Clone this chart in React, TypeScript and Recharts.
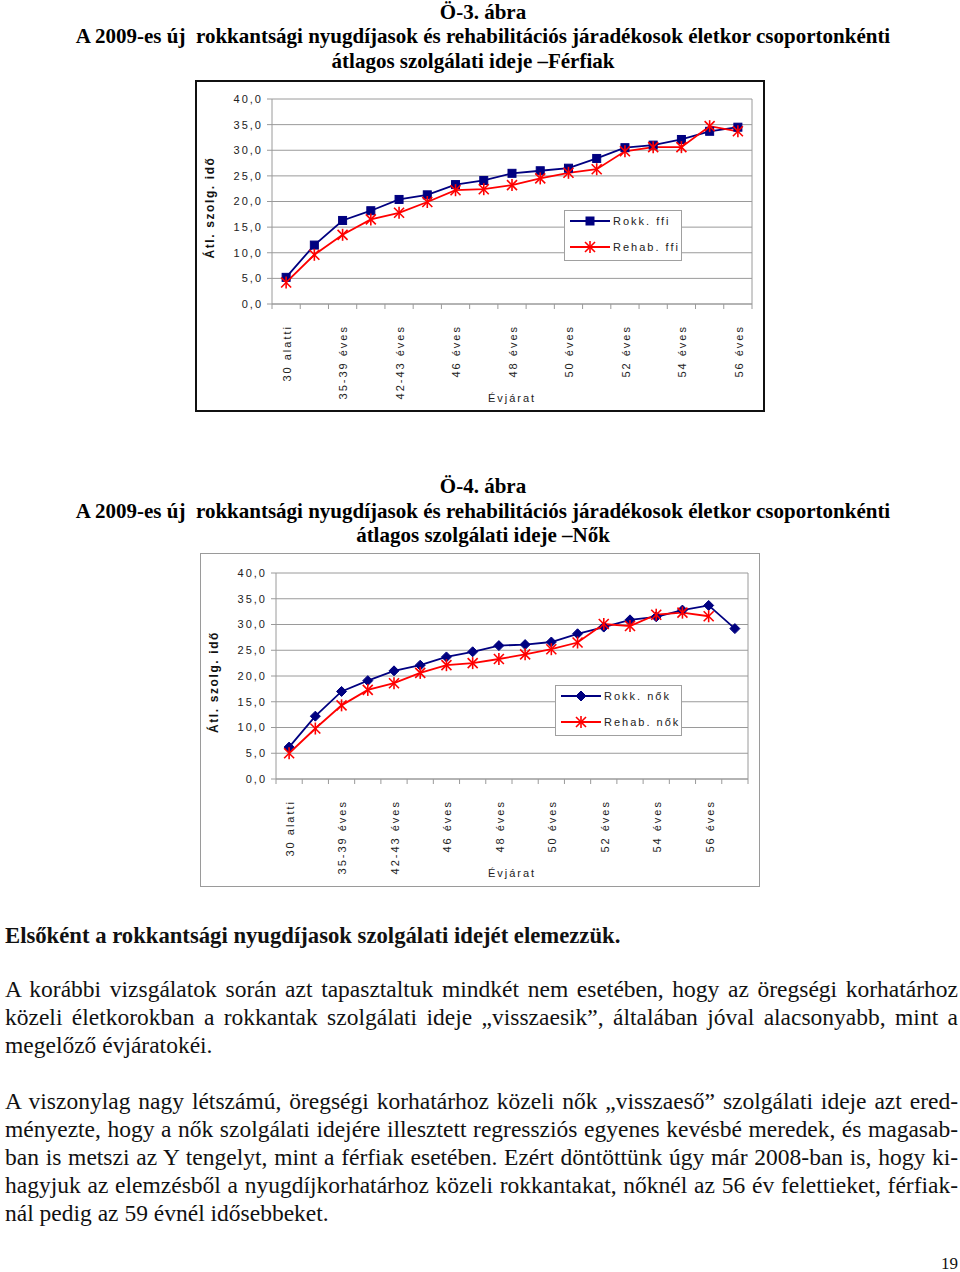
import React from 'react';
import { LineChart, Line, XAxis, YAxis, CartesianGrid, Legend } from 'recharts';

const CATS_FFI = ['30 alatti', '30-34 éves', '35-39 éves', '40-41 éves', '42-43 éves', '44-45 éves', '46 éves', '47 éves', '48 éves', '49 éves', '50 éves', '51 éves', '52 éves', '53 éves', '54 éves', '55 éves', '56 éves'];
const ROKK_FFI = [5.2, 11.5, 16.3, 18.2, 20.4, 21.3, 23.3, 24.1, 25.5, 26.0, 26.5, 28.4, 30.5, 31.0, 32.1, 33.7, 34.5];
const REHAB_FFI = [4.2, 9.6, 13.5, 16.5, 17.8, 19.9, 22.2, 22.4, 23.2, 24.5, 25.6, 26.3, 29.8, 30.6, 30.6, 34.7, 33.7];

const CATS_NOK = ['30 alatti', '30-34 éves', '35-39 éves', '40-41 éves', '42-43 éves', '44-45 éves', '46 éves', '47 éves', '48 éves', '49 éves', '50 éves', '51 éves', '52 éves', '53 éves', '54 éves', '55 éves', '56 éves', '57 éves'];
const ROKK_NOK = [6.2, 12.2, 17.0, 19.1, 21.0, 22.1, 23.7, 24.7, 25.9, 26.1, 26.6, 28.2, 29.5, 30.9, 31.5, 32.8, 33.7, 29.2];
const REHAB_NOK = [5.0, 9.8, 14.3, 17.3, 18.6, 20.6, 22.1, 22.5, 23.3, 24.2, 25.2, 26.5, 30.1, 29.7, 31.9, 32.3, 31.6];

const Y_TICKS = [0, 5, 10, 15, 20, 25, 30, 35, 40];

const NAVY = '#000080';
const RED = '#ff0000';
const GRID = '#9a9a9a';
const AXIS_FONT = '"Liberation Sans", Arial, sans-serif';
const SERIF = '"Liberation Serif", "Times New Roman", serif';

const fmt = (v: number) => v.toFixed(1).replace('.', ',');

const Square = ({ cx, cy, size = 8 }: any) => (
  <rect x={cx - size / 2} y={cy - size / 2} width={size} height={size} fill={NAVY} stroke={NAVY} />
);

const Diamond = ({ cx, cy, r = 5 }: any) => (
  <path d={`M${cx},${cy - r} L${cx + r},${cy} L${cx},${cy + r} L${cx - r},${cy} Z`} fill={NAVY} stroke={NAVY} />
);

const Star = ({ cx, cy, r = 5 }: any) => (
  <g stroke={RED} strokeWidth={1.6}>
    <line x1={cx - r} y1={cy - r} x2={cx + r} y2={cy + r} />
    <line x1={cx - r} y1={cy + r} x2={cx + r} y2={cy - r} />
    <line x1={cx} y1={cy - r - 1} x2={cx} y2={cy + r + 1} />
  </g>
);

const dotFn = (Comp: any) => (props: any) => {
  const { cx, cy, index, value } = props;
  if (cx == null || cy == null || value == null) return <g key={`e-${index}`} />;
  return <g key={`d-${index}`}><Comp cx={cx} cy={cy} /></g>;
};

// category labels every second slot, small ticks on the slot borders
const makeTick = (bw: number, count: number) => (props: any) => {
  const { x, y, payload, index } = props;
  const i = index != null ? index : payload.index;
  const tx = x + 1;
  const ty = y + 21;
  return (
    <g>
      <line x1={x - bw / 2} y1={y} x2={x - bw / 2} y2={y + 5} stroke={GRID} />
      {i === count - 1 && <line x1={x + bw / 2} y1={y} x2={x + bw / 2} y2={y + 5} stroke={GRID} />}
      {i % 2 === 0 && (
        <text
          x={tx}
          y={ty}
          dy="0.35em"
          transform={`rotate(-90, ${tx}, ${ty})`}
          textAnchor="end"
          fontFamily={AXIS_FONT}
          fontSize={11}
          letterSpacing={2}
          fill="#222"
        >
          {payload.value}
        </text>
      )}
    </g>
  );
};

const LegendBox = ({ items, Marker }: any) => (
  <div style={{ border: '1px solid #a0a0a0', background: '#fff', padding: '0 1px 3px 4px' }}>
    {items.map((it: any, k: number) => (
      <div key={k} style={{ display: 'flex', alignItems: 'center', height: 20, marginBottom: k === 0 ? 6 : 0 }}>
        <svg width={41} height={14}>
          <line x1={1} y1={7} x2={41} y2={7} stroke={it.color} strokeWidth={1.8} />
          {k === 0 ? <Marker cx={21} cy={7} /> : <Star cx={21} cy={7} />}
        </svg>
        <span style={{ fontFamily: AXIS_FONT, fontSize: 11, letterSpacing: 2, color: '#222', marginLeft: 3 }}>{it.name}</span>
      </div>
    ))}
  </div>
);

const YTitle = (props: any) => {
  const { viewBox } = props;
  const x = viewBox.x + 2;
  const y = viewBox.y + viewBox.height / 2 + 6;
  return (
    <text x={x} y={y} transform={`rotate(-90, ${x}, ${y})`} textAnchor="middle" fontFamily={AXIS_FONT} fontSize={12} fontWeight="bold" letterSpacing={1.6} fill="#111">
      Átl. szolg. idő
    </text>
  );
};

const Chart = ({ cats, rokk, rehab, rokkName, rehabName, Marker, width, height, margin, legendPos }: any) => {
  const data = cats.map((c: string, i: number) => ({ cat: c, rokk: rokk[i], rehab: rehab[i] }));
  const plotW = width - margin.left - margin.right - 60;
  const bw = plotW / cats.length;
  return (
    <LineChart width={width} height={height} data={data} margin={margin}>
      <CartesianGrid
        stroke={GRID}
        vertical={true}
        verticalCoordinatesGenerator={({ offset }: any) => [offset.left + offset.width]}
      />
      <XAxis
        dataKey="cat"
        interval={0}
        height={100}
        padding={{ left: bw / 2, right: bw / 2 }}
        tickSize={0}
        tickMargin={0}
        tickLine={false}
        axisLine={{ stroke: GRID }}
        tick={makeTick(bw, cats.length)}
        label={{ value: 'Évjárat', position: 'insideBottom', offset: 2, fontFamily: AXIS_FONT, fontSize: 11, letterSpacing: 2, fill: '#222' }}
      />
      <YAxis
        width={60}
        domain={[0, 40]}
        ticks={Y_TICKS}
        interval={0}
        tickFormatter={fmt}
        tickSize={5}
        tickMargin={4}
        axisLine={{ stroke: GRID }}
        tickLine={{ stroke: GRID }}
        tick={{ fontFamily: AXIS_FONT, fontSize: 11, letterSpacing: 2, fill: '#222' }}
        label={<YTitle />}
      />
      <Legend
        layout="vertical"
        align="center"
        verticalAlign="middle"
        wrapperStyle={{ left: legendPos.left, top: legendPos.top, width: 'auto' }}
        content={() => (
          <LegendBox Marker={Marker} items={[{ name: rokkName, color: NAVY }, { name: rehabName, color: RED }]} />
        )}
      />
      <Line dataKey="rokk" name={rokkName} stroke={NAVY} strokeWidth={1.8} dot={dotFn(Marker)} isAnimationActive={false} />
      <Line dataKey="rehab" name={rehabName} stroke={RED} strokeWidth={1.8} dot={dotFn(Star)} isAnimationActive={false} />
    </LineChart>
  );
};

const titleStyle: React.CSSProperties = {
  position: 'absolute', left: 0, width: 966, textAlign: 'center', fontFamily: SERIF, fontWeight: 'bold', fontSize: 21, lineHeight: '25px', whiteSpace: 'pre',
};

const bodyLine = (top: number, text: string, justify: boolean, bold = false) => (
  <div
    key={top}
    style={{
      position: 'absolute', left: 5, top, width: 953, fontFamily: SERIF, fontSize: bold ? 22.7 : 23.5, lineHeight: '28px',
      fontWeight: bold ? 'bold' : 'normal', textAlign: justify ? 'justify' : 'left', textAlignLast: justify ? 'justify' : 'left', whiteSpace: 'nowrap', color: '#111',
    }}
  >
    {text}
  </div>
);

export default function App() {
  return (
    <div style={{ position: 'fixed', left: 0, top: 0, width: 960, height: 1272, background: '#fff', color: '#000', overflow: 'hidden' }}>
      <div style={{ ...titleStyle, top: 0 }}>Ö-3. ábra</div>
      <div style={{ ...titleStyle, top: 24 }}>A 2009-es új  rokkantsági nyugdíjasok és rehabilitációs járadékosok életkor csoportonkénti</div>
      <div style={{ ...titleStyle, top: 49, width: 946 }}>átlagos szolgálati ideje –Férfiak</div>

      <div style={{ position: 'absolute', left: 195, top: 80, width: 566, height: 328, border: '2px solid #111' }}>
        <Chart
          cats={CATS_FFI} rokk={ROKK_FFI} rehab={REHAB_FFI}
          rokkName="Rokk. ffi" rehabName="Rehab. ffi" Marker={Square}
          width={566} height={328} margin={{ top: 17, right: 11, left: 15, bottom: 6 }}
          legendPos={{ left: 367, top: 128 }}
        />
      </div>

      <div style={{ ...titleStyle, top: 474 }}>Ö-4. ábra</div>
      <div style={{ ...titleStyle, top: 499 }}>A 2009-es új  rokkantsági nyugdíjasok és rehabilitációs járadékosok életkor csoportonkénti</div>
      <div style={{ ...titleStyle, top: 523 }}>átlagos szolgálati ideje –Nők</div>

      <div style={{ position: 'absolute', left: 200, top: 553, width: 558, height: 332, border: '1px solid #9a9a9a' }}>
        <Chart
          cats={CATS_NOK} rokk={ROKK_NOK} rehab={REHAB_NOK}
          rokkName="Rokk. nők" rehabName="Rehab. nők" Marker={Diamond}
          width={558} height={332} margin={{ top: 19, right: 11, left: 15, bottom: 7 }}
          legendPos={{ left: 354, top: 131 }}
        />
      </div>

      {bodyLine(922, 'Elsőként a rokkantsági nyugdíjasok szolgálati idejét elemezzük.', false, true)}
      {bodyLine(975, 'A korábbi vizsgálatok során azt tapasztaltuk mindkét nem esetében, hogy az öregségi korhatárhoz', true)}
      {bodyLine(1003, 'közeli életkorokban a rokkantak szolgálati ideje „visszaesik”, általában jóval alacsonyabb, mint a', true)}
      {bodyLine(1031, 'megelőző évjáratokéi.', false)}
      {bodyLine(1087, 'A viszonylag nagy létszámú, öregségi korhatárhoz közeli nők „visszaeső” szolgálati ideje azt ered-', true)}
      {bodyLine(1115, 'ményezte, hogy a nők szolgálati idejére illesztett regressziós egyenes kevésbé meredek, és magasab-', true)}
      {bodyLine(1143, 'ban is metszi az Y tengelyt, mint a férfiak esetében. Ezért döntöttünk úgy már 2008-ban is, hogy ki-', true)}
      {bodyLine(1171, 'hagyjuk az elemzésből a nyugdíjkorhatárhoz közeli rokkantakat, nőknél az 56 év felettieket, férfiak-', true)}
      {bodyLine(1199, 'nál pedig az 59 évnél idősebbeket.', false)}

      <div style={{ position: 'absolute', right: 2, top: 1254, fontFamily: SERIF, fontSize: 17, lineHeight: '20px', color: '#111' }}>19</div>
    </div>
  );
}
